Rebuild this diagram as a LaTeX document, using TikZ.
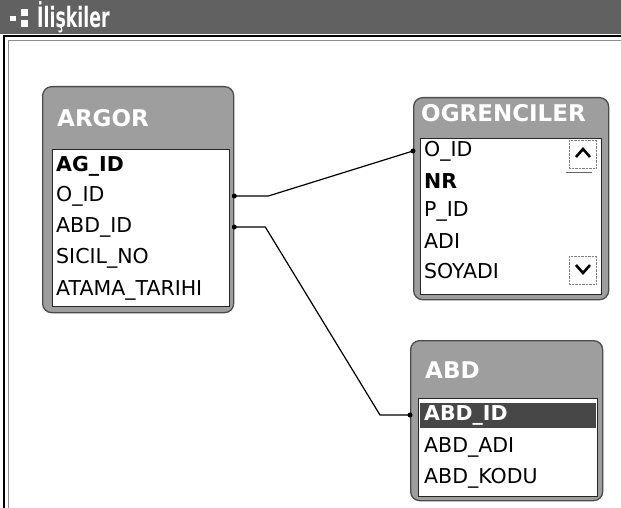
\documentclass[tikz,border=0pt]{standalone}
\usepackage{fontspec}
\setmainfont{DejaVu Sans}
\usetikzlibrary{calc}

\begin{document}
\begin{tikzpicture}[x=1pt,y=-1pt,
    tablebox/.style={draw=black!70, fill=black!38, line width=1.3pt, rounded corners=9pt,
      anchor=north west, inner sep=0pt},
    fieldbox/.style={draw=black!85, fill=white, line width=0.9pt, anchor=north west, inner sep=0pt},
    tabletitle/.style={anchor=west, inner sep=0pt, text=white,
      font=\fontsize{23}{23}\selectfont\bfseries},
    field/.style={anchor=west, inner sep=0pt, font=\fontsize{20.5}{20.5}\selectfont},
    keyfield/.style={field, font=\fontsize{20.5}{20.5}\selectfont\bfseries},
    relation/.style={line width=1.2pt},
    enddot/.style={circle, fill=black, inner sep=0pt, minimum size=5pt}]
  \useasboundingbox (0,0) rectangle (621,508);
  \fill[white] (0,0) rectangle (621,508);

  % window title bar
  \fill[black!62] (0,0) rectangle (621,34);
  \fill[white] (10,16) rectangle (16,21);
  \fill[white] (21,9) rectangle (28,16);
  \fill[white] (21,20) rectangle (28,27);
  \node[anchor=west, inner sep=0pt, text=white, font=\fontsize{28}{28}\selectfont\bfseries]
    (wintitle) at (37,17) {\scalebox{0.62}[1]{İlişkiler}};
  % window frame
  \draw[line width=2.2pt] (4,508) -- (4,36) -- (621,36);
  \draw[black!45, line width=0.8pt] (8,508) -- (8,40) -- (621,40);

  % ARGOR
  \node[tablebox, minimum width=191pt, minimum height=226pt] (argor) at (42,86) {};
  \node[tabletitle] (argor-title) at (57,118) {ARGOR};
  \node[fieldbox, minimum width=177pt, minimum height=157pt] (argor-fields) at (52,149) {};
  \node[keyfield] (argor-agid) at (56,166) {AG\_ID};
  \node[field] (argor-oid) at (56,196) {O\_ID};
  \node[field] (argor-abdid) at (56,227) {ABD\_ID};
  \node[field] (argor-sicil) at (56,258) {SICIL\_NO};
  \node[field] (argor-atama) at (56,290) {ATAMA\_TARIHI};

  % OGRENCILER
  \node[tablebox, minimum width=195pt, minimum height=202pt] (ogr) at (413,97) {};
  \node[tabletitle] (ogr-title) at (421,113) {OGRENCILER};
  \node[fieldbox, minimum width=181pt, minimum height=156pt] (ogr-fields) at (420,138) {};
  \node[field] (ogr-oid) at (424,151) {O\_ID};
  \node[keyfield] (ogr-nr) at (424,181) {NR};
  \node[field] (ogr-pid) at (424,211) {P\_ID};
  \node[field] (ogr-adi) at (424,241) {ADI};
  \node[field] (ogr-soyadi) at (424,271) {SOYADI};
  % scroll buttons
  \draw[black!50, densely dotted] (569,140) rectangle (596,168);
  \draw[black!50, densely dotted] (569,256) rectangle (596,284);
  \draw[line width=2.6pt, line join=miter] (576,157) -- (583,149) -- (590,157);
  \draw[line width=2.6pt, line join=miter] (576,265) -- (583,273) -- (590,265);
  \draw[black!60] (566,172) -- (592,172);

  % ABD
  \node[tablebox, minimum width=192pt, minimum height=160pt] (abd) at (410,340) {};
  \node[tabletitle] (abd-title) at (425,370) {ABD};
  \node[fieldbox, minimum width=179pt, minimum height=98pt] (abd-fields) at (418,398) {};
  \fill[black!72] (419.5,403) rectangle (596,428);
  \node[keyfield, text=white] (abd-id) at (424,415) {ABD\_ID};
  \node[field] (abd-adi) at (424,447) {ABD\_ADI};
  \node[field] (abd-kodu) at (424,478) {ABD\_KODU};

  % relations
  \draw[relation] (argor.east |- argor-oid) node[enddot] {} -- ++(34,0)
    -- (ogr.west |- ogr-oid) node[enddot] {};
  \draw[relation] (argor.east |- argor-abdid) node[enddot] {} -- ++(31,0)
    -- ($(abd.west |- abd-id)+(-30,0)$) -- (abd.west |- abd-id) node[enddot] {};
\end{tikzpicture}
\end{document}
